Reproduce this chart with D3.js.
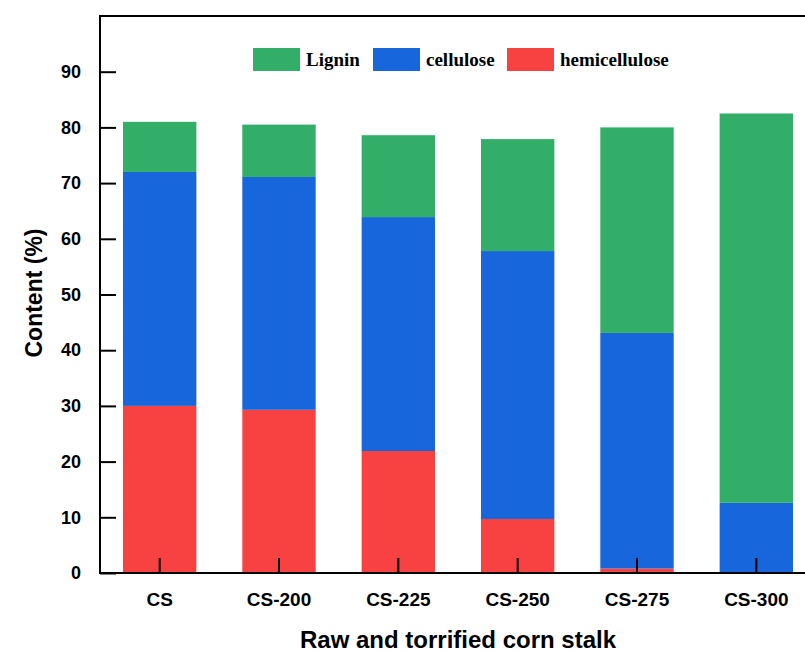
<!DOCTYPE html>
<html>
<head>
<meta charset="utf-8">
<script src="https://cdn.jsdelivr.net/npm/d3@7"></script>
<style>
  html, body { margin: 0; padding: 0; background: #fff; }
  svg { display: block; }
</style>
</head>
<body>
<svg id="chart" width="805" height="653"></svg>
<script>
const categories = ["CS", "CS-200", "CS-225", "CS-250", "CS-275", "CS-300"];
const hemicellulose = [30.0, 29.3, 21.9, 9.7, 0.8, 0.0];
const cellulose = [42.0, 41.8, 42.0, 48.1, 42.3, 12.6];
const lignin = [9.0, 9.4, 14.7, 20.1, 36.9, 69.9];
const seriesNames = ["hemicellulose", "cellulose", "Lignin"];
const legendOrder = ["Lignin", "cellulose", "hemicellulose"];
const yTicks = [0, 10, 20, 30, 40, 50, 60, 70, 80, 90];
const colors = { "Lignin": "#33ae69", "cellulose": "#1766dc", "hemicellulose": "#f84242" };

const svg = d3.select("#chart");
const pL = 100, pR = 816, pT = 16, pB = 573;

const rows = categories.map((c, i) => ({
  cat: c, hemicellulose: hemicellulose[i], cellulose: cellulose[i], Lignin: lignin[i]
}));
const stack = d3.stack().keys(seriesNames)(rows);

const x = d3.scaleBand().domain(categories).range([pL, pR]).paddingInner(0.385).paddingOuter(0.1925);
const y = d3.scaleLinear().domain([0, 100]).range([pB, pT]);

// bars
svg.append("g").selectAll("g").data(stack).join("g")
  .attr("fill", d => colors[d.key])
  .selectAll("rect").data(d => d).join("rect")
  .attr("x", d => x(d.data.cat))
  .attr("width", x.bandwidth())
  .attr("y", d => y(d[1]))
  .attr("height", d => Math.max(0, y(d[0]) - y(d[1])));

// y axis
const yAxis = d3.axisLeft(y).tickValues(yTicks).tickSize(-16).tickPadding(19).tickSizeOuter(0);
const gy = svg.append("g").attr("transform", `translate(${pL},0)`).call(yAxis);
gy.select(".domain").remove();
gy.selectAll(".tick line").attr("stroke", "#000").attr("stroke-width", 2);
gy.selectAll(".tick text").attr("font-family", "Liberation Sans, Arial, sans-serif")
  .attr("font-weight", "bold").attr("font-size", 18).attr("fill", "#000");

// x axis
const xAxis = d3.axisBottom(x).tickSize(-15).tickPadding(20).tickSizeOuter(0);
const gx = svg.append("g").attr("transform", `translate(0,${pB})`).call(xAxis);
gx.select(".domain").remove();
gx.selectAll(".tick line").attr("stroke", "#000").attr("stroke-width", 2);
gx.selectAll(".tick text").attr("font-family", "Liberation Sans, Arial, sans-serif")
  .attr("font-weight", "bold").attr("font-size", 19).attr("fill", "#000");

// frame lines
svg.append("line").attr("x1", pL).attr("x2", pL).attr("y1", pT - 1).attr("y2", pB + 1)
  .attr("stroke", "#000").attr("stroke-width", 2);
svg.append("line").attr("x1", pL - 1).attr("x2", 805).attr("y1", pB).attr("y2", pB)
  .attr("stroke", "#000").attr("stroke-width", 2);
svg.append("line").attr("x1", pL - 1).attr("x2", 805).attr("y1", pT).attr("y2", pT)
  .attr("stroke", "#000").attr("stroke-width", 2);

// axis titles
svg.append("text").attr("x", 458).attr("y", 648)
  .attr("text-anchor", "middle").attr("font-family", "Liberation Sans, Arial, sans-serif")
  .attr("font-weight", "bold").attr("font-size", 24).text("Raw and torrified corn stalk");
svg.append("text").attr("transform", `translate(42,293) rotate(-90)`)
  .attr("text-anchor", "middle").attr("font-family", "Liberation Sans, Arial, sans-serif")
  .attr("font-weight", "bold").attr("font-size", 23).text("Content (%)");

// legend
const legendX = [253, 373, 507];
const lg = svg.append("g");
legendOrder.forEach((k, i) => {
  lg.append("rect").attr("x", legendX[i]).attr("y", 48).attr("width", 47).attr("height", 23)
    .attr("fill", colors[k]);
  lg.append("text").attr("x", legendX[i] + 53).attr("y", 66)
    .attr("font-family", "Liberation Serif, Times New Roman, serif")
    .attr("font-weight", "bold").attr("font-size", 19).text(k);
});
</script>
</body>
</html>
